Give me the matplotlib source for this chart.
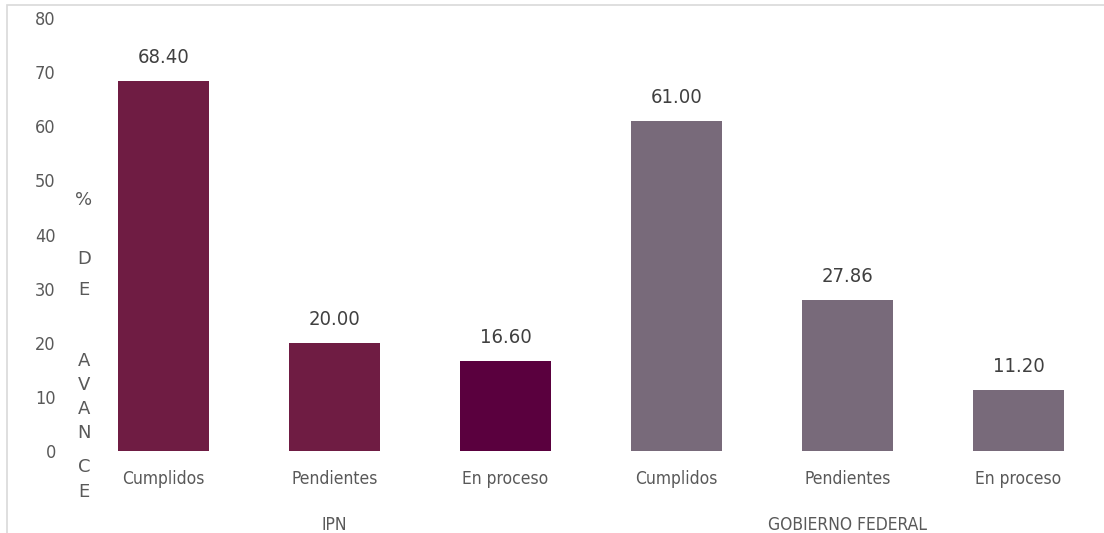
import matplotlib.pyplot as plt
from matplotlib.patches import Rectangle

# Datos
grupos = ['IPN', 'GOBIERNO FEDERAL']
categorias = ['Cumplidos', 'Pendientes', 'En proceso',
              'Cumplidos', 'Pendientes', 'En proceso']
valores = [68.40, 20.00, 16.60, 61.00, 27.86, 11.20]
colores = ['#6F1C43', '#6F1C43', '#5A003E', '#786A7A', '#786A7A', '#786A7A']

plt.rcParams['font.family'] = ['DejaVu Sans']
plt.rcParams['font.stretch'] = 'condensed'
gris = '#595959'

fig = plt.figure(figsize=(11.04, 5.33), dpi=100)
ax = fig.add_axes([78 / 1104, 82 / 533, 1 - 78 / 1104, 433 / 533])

x = list(range(len(valores)))
barras = ax.bar(x, valores, width=0.53, color=colores)
for b, v in zip(barras, valores):
    ax.text(b.get_x() + b.get_width() / 2, v + 2.6, f'{v:.2f}',
            ha='center', va='bottom', fontsize=14.5, color='#404040')

ax.set_xlim(-0.5, 5.5)
ax.set_ylim(0, 80)
ax.set_yticks(range(0, 81, 10))
ax.set_xticks(x)
ax.set_xticklabels(categorias)
ax.tick_params(axis='y', length=0, pad=16, labelsize=13, labelcolor=gris)
ax.tick_params(axis='x', length=0, pad=14, labelsize=12.5, labelcolor=gris)
for s in ax.spines.values():
    s.set_visible(False)

# etiquetas de grupo
for i, g in enumerate(grupos):
    ax.text(1 + 3 * i, -0.17, g, transform=ax.get_xaxis_transform(),
            ha='center', va='center', fontsize=12.5, color=gris)

# titulo vertical del eje Y, letra por letra
letras = ['%', 'D', 'E', 'A', 'V', 'A', 'N', 'C', 'E']
pos_y = [200, 259, 290, 361, 385, 409, 433, 467, 492]
for l, py in zip(letras, pos_y):
    fig.text(84 / 1104, 1 - py / 533, l, ha='center', va='center',
             fontsize=13, color=gris, stretch='normal')

# borde del area del grafico
fig.patches.append(Rectangle((7 / 1104, -0.05), 1.1, 1 - 5 / 533 + 0.05,
                             transform=fig.transFigure, fill=False,
                             edgecolor='#D9D9D9', linewidth=1.2))

fig.savefig('out.png', dpi=100)
plt.close(fig)
